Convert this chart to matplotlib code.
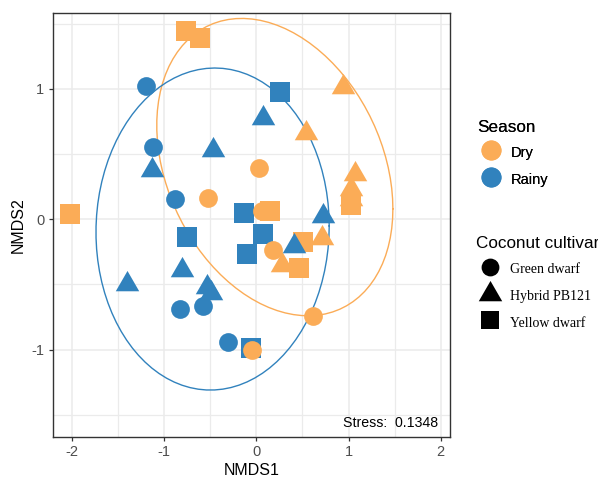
import numpy as np
import matplotlib.pyplot as plt
from matplotlib.lines import Line2D

plt.rcParams['font.family'] = ['Liberation Sans', 'DejaVu Sans']
plt.rcParams['axes.unicode_minus'] = False

# NMDS scores
rainy_x = [-1.196, -1.120, -0.882, -0.828, -0.578, -0.307,
           0.073, -0.470, -1.131, -1.402, -0.806, -0.535, -0.491, 0.723, 0.409,
           0.257, -0.134, -0.752, 0.073, -0.101, -0.057]
rainy_y = [1.022, 0.554, 0.156, -0.688, -0.665, -0.945,
           0.777, 0.532, 0.378, -0.493, -0.386, -0.519, -0.565, 0.025, -0.205,
           0.976, 0.048, -0.136, -0.113, -0.266, -0.991]
rainy_cv = ['Green dwarf'] * 6 + ['Hybrid PB121'] * 9 + ['Yellow dwarf'] * 6

dry_x = [-0.524, 0.029, 0.062, 0.181, 0.615, -0.047,
         0.940, 0.539, 1.070, 1.027, 1.027, 0.713, 0.279,
         -0.762, -0.611, -2.020, 0.149, 0.507, 0.463, 1.027]
dry_y = [0.163, 0.393, 0.064, -0.235, -0.741, -1.000,
         1.014, 0.662, 0.348, 0.233, 0.156, -0.143, -0.350,
         1.444, 1.390, 0.041, 0.064, -0.174, -0.374, 0.110]
dry_cv = ['Green dwarf'] * 6 + ['Hybrid PB121'] * 7 + ['Yellow dwarf'] * 7

# ellipse centre and covariance per season
ell_center = {'Dry': [0.20, 0.40], 'Rainy': [-0.475, -0.075]}
ell_cov = {'Dry': [[1.64, -0.41], [-0.41, 1.30]],
           'Rainy': [[1.60, 0.03], [0.03, 1.525]]}

stress = 0.1348

colores = {'Dry': '#FBAC57', 'Rainy': '#3182BD'}
tri = [(0, 0.577), (-0.5, -0.289), (0.5, -0.289), (0, 0.577)]
marcas = {'Green dwarf': ('o', 13.5), 'Hybrid PB121': (tri, 19.5),
          'Yellow dwarf': ('s', 14.2)}

datos = {'Dry': (dry_x, dry_y, dry_cv), 'Rainy': (rainy_x, rainy_y, rainy_cv)}

fig = plt.figure(figsize=(5.98, 4.83), dpi=100)
ax = fig.add_axes([0.088, 0.096, 0.6645, 0.8777])

# ellipses
t = np.linspace(0, 2 * np.pi, 90)
for s in ['Dry', 'Rainy']:
    L = np.linalg.cholesky(np.array(ell_cov[s]))
    pts = np.array(ell_center[s])[:, None] + L @ np.vstack([np.cos(t), np.sin(t)])
    ax.plot(pts[0], pts[1], color=colores[s], lw=1.0, zorder=2)

orden = [('Rainy', 'Green dwarf'), ('Rainy', 'Yellow dwarf'), ('Dry', 'Green dwarf'),
         ('Dry', 'Yellow dwarf'), ('Dry', 'Hybrid PB121'), ('Rainy', 'Hybrid PB121')]
for s, cv in orden:
    xs, ys, cvs = datos[s]
    idx = [i for i, c in enumerate(cvs) if c == cv]
    m, ms = marcas[cv]
    ax.scatter([xs[i] for i in idx], [ys[i] for i in idx], marker=m, s=ms ** 2,
               color=colores[s], linewidths=0, zorder=3)

ax.set_xlim(-2.21, 2.10)
ax.set_ylim(-1.667, 1.584)
ax.set_xticks([-2, -1, 0, 1, 2])
ax.set_yticks([-1, 0, 1])
ax.set_xticks([-1.5, -0.5, 0.5, 1.5], minor=True)
ax.set_yticks([-1.5, -0.5, 0.5, 1.5], minor=True)
ax.grid(True, which='major', color='#EBEBEB', lw=1.1, zorder=0)
ax.grid(True, which='minor', color='#EBEBEB', lw=0.9, zorder=0)
ax.set_axisbelow(True)
ax.tick_params(which='minor', length=0)
ax.tick_params(which='major', length=3, width=0.9, color='#333333',
               labelsize=10.5, labelcolor='#4D4D4D', pad=3)
for sp in ax.spines.values():
    sp.set_color('#333333')
    sp.set_linewidth(1.0)

ax.set_xlabel('NMDS1', fontsize=11.5, labelpad=3)
ax.set_ylabel('NMDS2', fontsize=11.5, labelpad=4)

ax.text(0.97, 0.033, 'Stress:  %.4f' % stress, transform=ax.transAxes,
        ha='right', va='center', fontsize=10.2)

# legends
h1 = [Line2D([], [], ls='', marker='o', ms=14.4, color=colores[s], mew=0) for s in ['Dry', 'Rainy']]
leg1 = fig.legend(h1, ['Dry', 'Rainy'], title='Season', loc='upper left',
                  bbox_to_anchor=(0.785, 0.767), frameon=False, fontsize=10.5,
                  title_fontsize=12.3, alignment='left', borderpad=0,
                  handlelength=2.0, handleheight=1.5, handletextpad=0.35,
                  labelspacing=0.6)
fig.add_artist(leg1)

h2 = [Line2D([], [], ls='', marker=marcas[c][0], ms=marcas[c][1] * f, color='black', mew=0)
      for c, f in [('Green dwarf', 0.95), ('Hybrid PB121', 1.0), ('Yellow dwarf', 0.95)]]
leg2 = fig.legend(h2, ['Green dwarf', 'Hybrid PB121', 'Yellow dwarf'], title='Coconut cultivar',
                  loc='upper left', bbox_to_anchor=(0.785, 0.526), frameon=False,
                  prop={'family': 'Liberation Serif', 'size': 10}, title_fontsize=12.3,
                  alignment='left', borderpad=0, handlelength=2.0, handleheight=1.6,
                  handletextpad=0.45, labelspacing=0.65)

fig.savefig('out.png', dpi=100)
